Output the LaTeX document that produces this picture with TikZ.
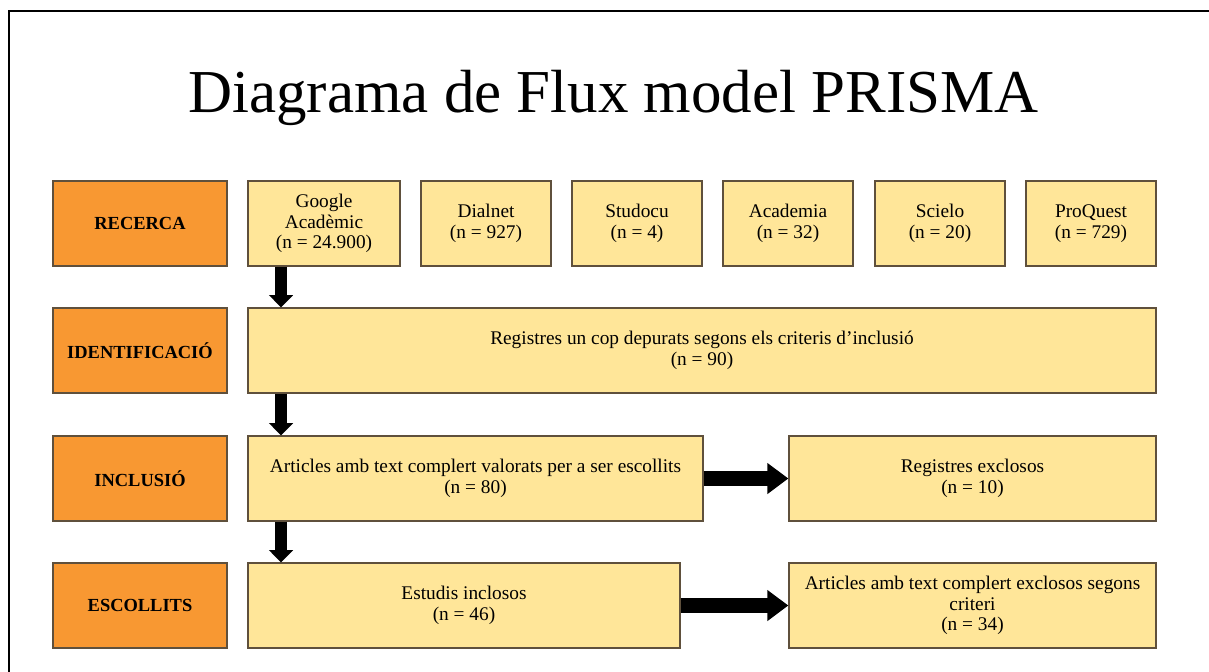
\documentclass[tikz,border=0pt]{standalone}
\usepackage{fontspec}
\setmainfont{Liberation Serif}
\usetikzlibrary{arrows.meta}

\definecolor{stageorange}{RGB}{248,152,50}
\definecolor{boxyellow}{RGB}{255,230,153}
\definecolor{boxedge}{RGB}{95,80,60}

\tikzset{
    stage/.style={draw=boxedge, fill=stageorange, line width=0.8pt, minimum width=3.48cm, minimum height=1.7cm, font=\fontsize{10.5}{12}\selectfont\bfseries},
    info/.style={draw=boxedge, fill=boxyellow, line width=0.8pt, minimum height=1.7cm, align=center, inner sep=2pt, font=\fontsize{11}{11.8}\selectfont},
    downarrow/.style={line width=6.5pt, -{Triangle[width=13.5pt,length=7pt]}},
    sidearrow/.style={line width=8pt, -{Triangle[width=17pt,length=12pt]}}
}

\begin{document}
\begin{tikzpicture}[x=0.02cm, y=-0.02cm]
    % Page frame (pixel coordinates, y downwards)
    \useasboundingbox (0,0) rectangle (1209,672);
    \draw[line width=1.1pt] (9,672) -- (9,11) -- (1209,11);

    % Title
    \node[anchor=base, font=\fontsize{34.7}{40}\selectfont] (title) at (613.5,113) {Diagrama de Flux model PRISMA};

    % Stage labels on the left
    \node[stage] (recerca) at (140,223.5) {RECERCA};
    \node[stage] (identif) at (140,350.5) {IDENTIFICACIÓ};
    \node[stage] (inclusio) at (140,478.5) {INCLUSIÓ};
    \node[stage] (escollits) at (140,605.5) {ESCOLLITS};

    % Search sources
    \node[info, minimum width=3.04cm] (google) at (324,223.5) {Google\\Acadèmic\\(n = 24.900)};
    \foreach \nm/\cx/\txt in {dialnet/486/{Dialnet\\(n = 927)}, studocu/637/{Studocu\\(n = 4)}, academia/788/{Academia\\(n = 32)}, scielo/940/{Scielo\\(n = 20)}, proquest/1091/{ProQuest\\(n = 729)}} {
        \node[info, minimum width=2.6cm] (\nm) at (\cx,223.5) {\txt};
    }

    % Flow boxes
    \node[info, minimum width=18.16cm] (depurats) at (702,350.5) {Registres un cop depurats segons els criteris d’inclusió\\(n = 90)};
    \node[info, minimum width=9.1cm] (valorats) at (475.5,478.5) {Articles amb text complert valorats per a ser escollits\\(n = 80)};
    \node[info, minimum width=7.34cm] (exclosos) at (972.5,478.5) {Registres exclosos\\(n = 10)};
    \node[info, minimum width=8.64cm] (inclosos) at (464,605.5) {Estudis inclosos\\(n = 46)};
    \node[info, minimum width=7.34cm] (criteri) at (972.5,605.5) {Articles amb text complert exclosos segons\\criteri\\(n = 34)};

    % Arrows
    \coordinate (flowline) at (281,0);
    \draw[downarrow] (google.south -| flowline) -- (depurats.north -| flowline);
    \draw[downarrow] (depurats.south -| flowline) -- (valorats.north -| flowline);
    \draw[downarrow] (valorats.south -| flowline) -- (inclosos.north -| flowline);
    \draw[sidearrow] (valorats.east) -- (exclosos.west);
    \draw[sidearrow] (inclosos.east) -- (criteri.west);
\end{tikzpicture}
\end{document}
